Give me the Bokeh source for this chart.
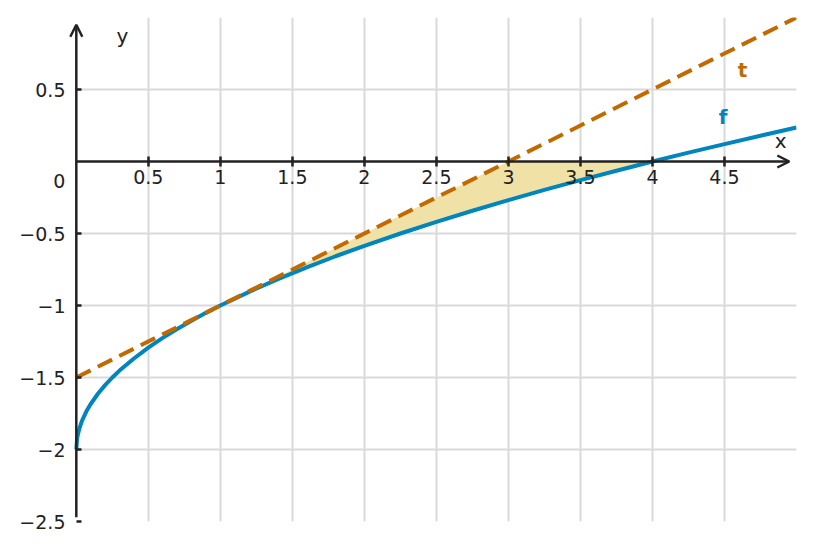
from bokeh.plotting import figure
from bokeh.models import FixedTicker, Arrow, OpenHead, Label
from bokeh.embed import file_html
from bokeh.resources import INLINE

# f(x)
f_x = [0.0, 0.005, 0.01, 0.02, 0.04, 0.07, 0.1, 0.15, 0.2, 0.25, 0.3, 0.4, 0.5,
       0.6, 0.7, 0.8, 0.9, 1.0, 1.2, 1.4, 1.6, 1.8, 2.0, 2.25, 2.5, 2.75, 3.0,
       3.25, 3.5, 3.75, 4.0, 4.25, 4.5, 4.75, 5.0]
f_y = [-2.0, -1.929, -1.9, -1.859, -1.8, -1.735, -1.684, -1.613, -1.553, -1.5,
       -1.452, -1.368, -1.293, -1.225, -1.163, -1.106, -1.051, -1.0, -0.905,
       -0.817, -0.735, -0.658, -0.586, -0.5, -0.419, -0.342, -0.268, -0.197,
       -0.129, -0.064, 0.0, 0.062, 0.121, 0.179, 0.236]

# tangent t
t_x = [0.0, 1.0, 3.0, 5.0]
t_y = [-1.5, -1.0, 0.0, 1.0]

touch_x = 1.0   # where t touches f
f_root = 4.0    # where f crosses the x axis

x_ticks = [0.5, 1, 1.5, 2, 2.5, 3, 3.5, 4, 4.5]
x_tick_labels = ["0.5", "1", "1.5", "2", "2.5", "3", "3.5", "4", "4.5"]
y_ticks = [-2.5, -2, -1.5, -1, -0.5, 0.5]
y_tick_labels = ["\u22122.5", "\u22122", "\u22121.5", "\u22121", "\u22120.5", "0.5"]

F_COL = "#0085be"
T_COL = "#c26a00"
AX_COL = "#222222"
FONT = "DejaVu Sans"

# room left of x=0 (29px) so the y axis arrow and the "0" are not clipped
p = figure(x_range=(-0.2, 5), y_range=(-2.5, 1.0),
           frame_width=749, frame_height=504,
           min_border_left=47, min_border_right=10,
           min_border_top=17, min_border_bottom=20,
           output_backend="svg", toolbar_location=None)
p.outline_line_color = None

# grid
p.xgrid.ticker = FixedTicker(ticks=x_ticks)
p.ygrid.ticker = FixedTicker(ticks=y_ticks)
p.ygrid.cross_bounds = (0, 5)
for g in (p.xgrid, p.ygrid):
    g.grid_line_color = "#d9d9d9"
    g.grid_line_width = 2

# shaded region between t, f and the x axis
shade_x = [x for x in t_x if touch_x <= x <= 3.0] + [f_root]
shade_y = [y for x, y in zip(t_x, t_y) if touch_x <= x <= 3.0] + [0.0]
back = [(x, y) for x, y in zip(f_x, f_y) if touch_x <= x <= f_root][::-1]
shade_x += [b[0] for b in back]
shade_y += [b[1] for b in back]
p.patch(shade_x, shade_y, fill_color="#f0e2a6", line_color=None)

p.line(f_x, f_y, line_color=F_COL, line_width=4)
p.line(t_x, t_y, line_color=T_COL, line_width=4, line_dash="16 8")

# axes
xa = p.xaxis[0]
xa.fixed_location = 0
xa.ticker = FixedTicker(ticks=x_ticks)
xa.major_label_overrides = {v: s for v, s in zip(x_ticks, x_tick_labels)}
xa.major_tick_in = 5
xa.major_tick_out = 5
xa.major_label_standoff = 3

# y axis sits on the frame edge; ticks and labels shifted onto x=0
ya = p.yaxis[0]
ya.ticker = FixedTicker(ticks=y_ticks)
ya.major_label_overrides = {v: s for v, s in zip(y_ticks, y_tick_labels)}
ya.major_tick_out = -29
ya.major_tick_in = 34
ya.minor_tick_out = 0
ya.major_label_standoff = -18

for ax in (xa, ya):
    ax.axis_line_color = None
    ax.minor_tick_line_color = None
    ax.major_tick_line_color = AX_COL
    ax.major_tick_line_width = 2.5
    ax.major_label_text_font = FONT
    ax.major_label_text_font_size = "19px"
    ax.major_label_text_color = AX_COL

p.add_layout(Arrow(x_start=0, y_start=0, x_end=4.95, y_end=0,
                   line_color=AX_COL, line_width=2.5,
                   end=OpenHead(size=12, line_color=AX_COL, line_width=2.5)))
p.add_layout(Arrow(x_start=0, y_start=-2.47, x_end=0, y_end=0.95,
                   line_color=AX_COL, line_width=2.5,
                   end=OpenHead(size=12, line_color=AX_COL, line_width=2.5)))

# texts
def add_text(x, y, txt, color=AX_COL, style="normal", size="19px", dx=0, dy=0):
    p.add_layout(Label(x=x, y=y, text=txt, x_offset=dx, y_offset=dy,
                       text_align="center", text_baseline="middle",
                       text_font=FONT, text_font_size=size,
                       text_font_style=style, text_color=color))

add_text(0, 0, "0", dx=-17, dy=-19)
add_text(0.32, 0.87, "y", size="20px")
add_text(4.89, 0.14, "x", size="20px")
add_text(4.625, 0.632, "t", color=T_COL, style="bold", size="20px")
add_text(4.49, 0.3125, "f", color=F_COL, style="bold", size="20px")

open("out.html", "w").write(file_html(p, INLINE))
